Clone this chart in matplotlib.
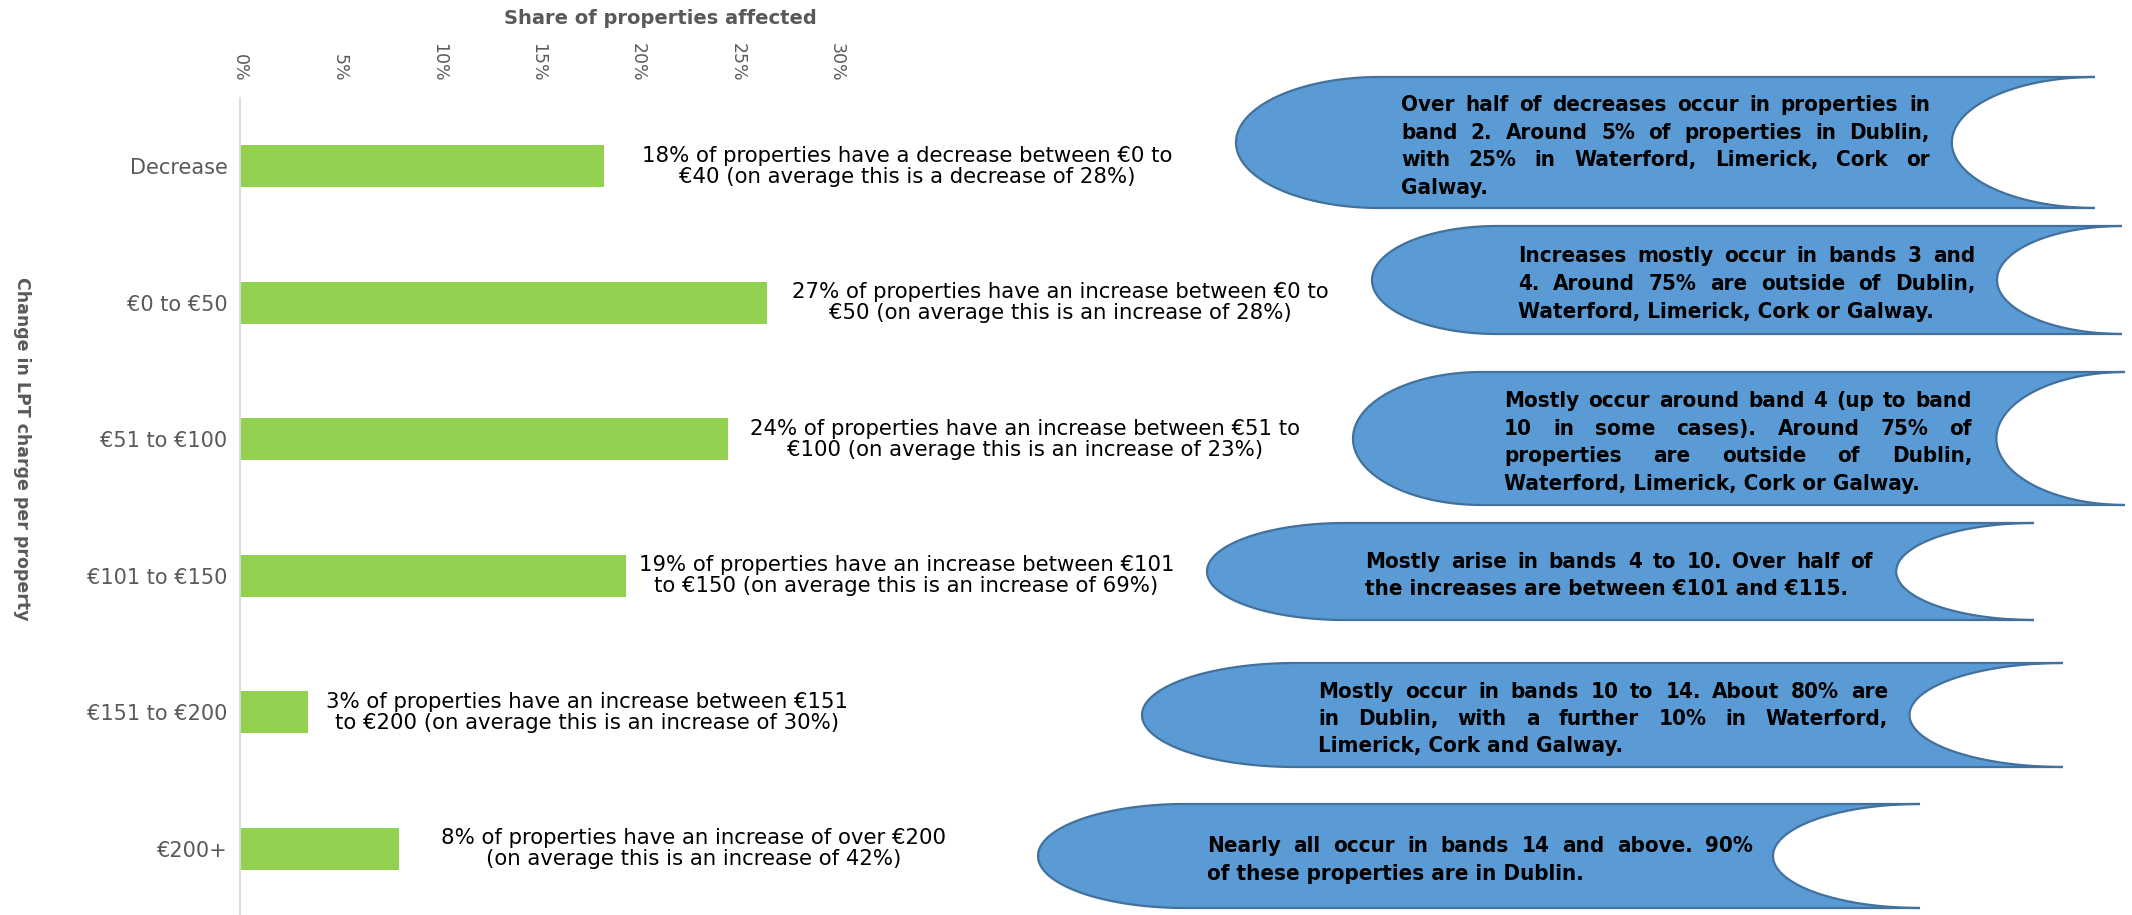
import numpy as np
import matplotlib
matplotlib.use('Agg')
import matplotlib.pyplot as plt
from matplotlib import font_manager
from matplotlib.patches import Polygon

# ── Chart data ─────────────────────────────────────────────────────
categories = ['Decrease', '€0 to €50', '€51 to €100', '€101 to €150',
              '€151 to €200', '€200+']
share = [0.183, 0.265, 0.245, 0.194, 0.034, 0.080]
x_ticks = [0.0, 0.05, 0.10, 0.15, 0.20, 0.25, 0.30]

bar_notes = [
    '18% of properties have a decrease between €0 to\n€40 (on average this is a decrease of 28%)',
    '27% of properties have an increase between €0 to\n€50 (on average this is an increase of 28%)',
    '24% of properties have an increase between €51 to\n€100 (on average this is an increase of 23%)',
    '19% of properties have an increase between €101\nto €150 (on average this is an increase of 69%)',
    '3% of properties have an increase between €151\nto €200 (on average this is an increase of 30%)',
    '8% of properties have an increase of over €200\n(on average this is an increase of 42%)',
]

callout_lines = [
    ['Over half of decreases occur in properties in',
     'band 2. Around 5% of properties in Dublin,',
     'with 25% in Waterford, Limerick, Cork or',
     'Galway.'],
    ['Increases mostly occur in bands 3 and',
     '4. Around 75% are outside of Dublin,',
     'Waterford, Limerick, Cork or Galway.'],
    ['Mostly occur around band 4 (up to band',
     '10 in some cases). Around 75% of',
     'properties are outside of Dublin,',
     'Waterford, Limerick, Cork or Galway.'],
    ['Mostly arise in bands 4 to 10. Over half of',
     'the increases are between €101 and €115.'],
    ['Mostly occur in bands 10 to 14. About 80% are',
     'in Dublin, with a further 10% in Waterford,',
     'Limerick, Cork and Galway.'],
    ['Nearly all occur in bands 14 and above. 90%',
     'of these properties are in Dublin.'],
]

# ── Layout (figure pixels) ─────────────────────────────────────────
W, H = 2132, 915
note_offsets = [27, 18, 16, 9, 13, 30]          # points right of bar end
boxes = [(1236, 2095, 77, 208), (1372, 2122, 226, 334), (1353, 2125, 372, 505),
         (1207, 2034, 523, 620), (1142, 2063, 663, 767), (1038, 1920, 804, 908)]
text_spans = [(1401, 1930), (1518, 1975), (1504, 1972),
              (1365, 1873), (1318, 1888), (1207, 1753)]

GREY = '#595959'
names = {f.name for f in font_manager.fontManager.ttflist}
if 'Liberation Sans Narrow' in names:
    box_font = dict(family='Liberation Sans Narrow', fontweight='bold', fontsize=22)
else:
    box_font = dict(family='DejaVu Sans', fontweight='bold', fontsize=16,
                    fontstretch='condensed')


def stored_data_shape(L, R, T, B, n=80):
    """Flowchart 'stored data' outline: convex left end, concave right end."""
    rx = (R - L) / 6
    cy, ry = (T + B) / 2, (B - T) / 2
    t = np.linspace(np.pi / 2, 3 * np.pi / 2, n)
    right = np.column_stack([R + rx * np.cos(t), cy - ry * np.sin(t)])
    t = t[::-1]
    left = np.column_stack([L + rx + rx * np.cos(t), cy - ry * np.sin(t)])
    return np.vstack([right, left])


fig = plt.figure(figsize=(W / 100, H / 100), dpi=100)
ax = fig.add_axes([240 / W, -2 / H, 1 - 240 / W, 819 / H])

y = np.arange(len(categories))
ax.barh(y, share, height=0.31, color='#92D050')
ax.set_ylim(len(categories) - 0.5, -0.5)
ax.set_xlim(0, 0.3 * (W - 240) / (837 - 240))

ax.xaxis.tick_top()
ax.set_xticks(x_ticks)
ax.set_xticklabels([f'{t * 100:.0f}%' for t in x_ticks], rotation=-90)
ax.tick_params(axis='x', length=0, pad=12, labelsize=12.5, labelcolor=GREY)
ax.set_yticks(y)
ax.set_yticklabels(categories)
ax.tick_params(axis='y', length=0, pad=9, labelsize=15, labelcolor=GREY)
for s in ['top', 'right', 'bottom']:
    ax.spines[s].set_visible(False)
ax.spines['left'].set_color('#D9D9D9')
ax.spines['left'].set_linewidth(1.3)

for i, (val, note) in enumerate(zip(share, bar_notes)):
    ax.annotate(note, xy=(val, i), xytext=(note_offsets[i], 0),
                textcoords='offset points', ha='left', va='center',
                multialignment='center', fontsize=15.3, linespacing=1.05,
                color='black')

fig.text(660 / W, 1 - 19 / H, 'Share of properties affected', ha='center',
         va='center', fontsize=14, fontweight='bold', color=GREY)
fig.text(22 / W, 1 - 449 / H, 'Change in LPT charge per property', rotation=-90,
         ha='center', va='center', fontsize=12.5, fontweight='bold', color=GREY)

# ── Callout shapes on a pixel overlay ──────────────────────────────
ox = fig.add_axes([0, 0, 1, 1])
ox.set_xlim(0, W)
ox.set_ylim(H, 0)
ox.axis('off')
renderer = fig.canvas.get_renderer()
em = box_font['fontsize'] * 100 / 72
step = 27.5

for (L, R, T, B), (x0, x1), lines in zip(boxes, text_spans, callout_lines):
    ox.add_patch(Polygon(stored_data_shape(L, R, T, B), closed=True,
                         facecolor='#5B9BD5', edgecolor='#41719C', lw=1.6))
    yc = (T + B) / 2 + 2
    n = len(lines)
    for k, line in enumerate(lines):
        yl = yc + (k - (n - 1) / 2) * step
        words = line.split(' ')
        if k == n - 1 or len(words) == 1:
            ox.text(x0, yl, line, ha='left', va='center_baseline', **box_font)
            continue
        arts = [ox.text(0, yl, w, ha='left', va='center_baseline', **box_font)
                for w in words]
        widths = [a.get_window_extent(renderer).width for a in arts]
        gap = max((x1 - x0 - sum(widths)) / (len(words) - 1), 0.22 * em)
        xx = x0
        for a, w in zip(arts, widths):
            a.set_x(xx)
            xx += w + gap

fig.savefig('out.png', dpi=100)
plt.close('all')
